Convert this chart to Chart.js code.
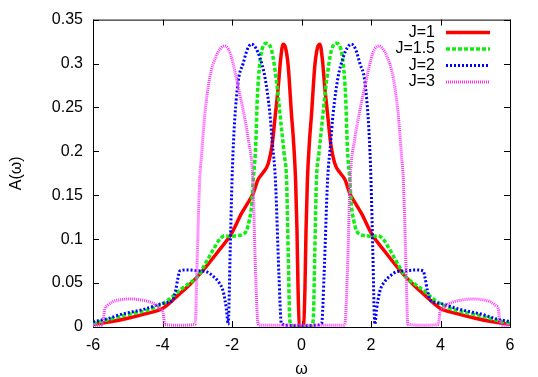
<!DOCTYPE html>
<html>
<head>
<meta charset="utf-8">
<script src="https://cdn.jsdelivr.net/npm/chart.js@4.4.1/dist/chart.umd.min.js"></script>
<style>
  html, body { margin: 0; padding: 0; background: #fff; }
  canvas { display: block; }
</style>
</head>
<body>
<canvas id="myChart" width="538" height="377"></canvas>
<script>
// series labels and ticks
const seriesLabels = ['J=1', 'J=1.5', 'J=2', 'J=3'];
const xTicks = [-6, -4, -2, 0, 2, 4, 6];
const yTicks = [0, 0.05, 0.1, 0.15, 0.2, 0.25, 0.3, 0.35];
const yTickLabels = ['0', '0.05', '0.1', '0.15', '0.2', '0.25', '0.3', '0.35'];

// J=1
const j1Omega = [-6.00, -5.50, -5.00, -4.50, -4.00, -3.50, -3.22, -3.00, -2.74, -2.40, -2.02, -1.73, -1.55, -1.39, -1.25, -1.10, -0.96, -0.84, -0.77, -0.67, -0.60, -0.53, -0.46, -0.38, -0.29, -0.23, -0.17, -0.13, -0.10, -0.06,
  0.00, 0.06, 0.10, 0.13, 0.17, 0.23, 0.29, 0.38, 0.46, 0.53, 0.60, 0.67, 0.77, 0.84, 0.96, 1.10, 1.25, 1.39, 1.55, 1.73, 2.02, 2.40, 2.74, 3.00, 3.22, 3.50, 4.00, 4.50, 5.00, 5.50, 6.00];
const j1A = [0.003, 0.006, 0.010, 0.015, 0.021, 0.038, 0.048, 0.057, 0.069, 0.086, 0.106, 0.129, 0.141, 0.152, 0.168, 0.176, 0.186, 0.209, 0.235, 0.273, 0.305, 0.322, 0.318, 0.296, 0.243, 0.212, 0.167, 0.110, 0.045, 0.001,
  0.000, 0.001, 0.045, 0.110, 0.167, 0.212, 0.243, 0.296, 0.318, 0.322, 0.305, 0.273, 0.235, 0.209, 0.186, 0.176, 0.168, 0.152, 0.141, 0.129, 0.106, 0.086, 0.069, 0.057, 0.048, 0.038, 0.021, 0.015, 0.010, 0.006, 0.003];

// J=1.5
const j15Omega = [-6.00, -5.50, -5.14, -4.46, -4.18, -3.89, -3.50, -3.22, -3.00, -2.74, -2.54, -2.35, -2.20, -2.05, -1.85, -1.70, -1.58, -1.50, -1.44, -1.39, -1.32, -1.27, -1.20, -1.12, -1.01, -0.86, -0.72, -0.57, -0.50, -0.43, -0.38, -0.34, -0.30, -0.20,
  0.00, 0.20, 0.30, 0.34, 0.38, 0.43, 0.50, 0.57, 0.72, 0.86, 1.01, 1.12, 1.20, 1.27, 1.32, 1.39, 1.44, 1.50, 1.58, 1.70, 1.85, 2.05, 2.20, 2.35, 2.54, 2.74, 3.00, 3.22, 3.50, 3.89, 4.18, 4.46, 5.14, 5.50, 6.00];
const j15A = [0.004, 0.009, 0.013, 0.019, 0.023, 0.029, 0.042, 0.050, 0.057, 0.074, 0.088, 0.100, 0.104, 0.103, 0.104, 0.105, 0.110, 0.122, 0.137, 0.167, 0.205, 0.262, 0.300, 0.318, 0.323, 0.315, 0.280, 0.224, 0.197, 0.167, 0.080, 0.010, 0.002, 0.001,
  0.000, 0.001, 0.002, 0.010, 0.080, 0.167, 0.197, 0.224, 0.280, 0.315, 0.323, 0.318, 0.300, 0.262, 0.205, 0.167, 0.137, 0.122, 0.110, 0.105, 0.104, 0.103, 0.104, 0.100, 0.088, 0.074, 0.057, 0.050, 0.042, 0.029, 0.023, 0.019, 0.013, 0.009, 0.004];

// J=2
const j2Omega = [-6.00, -5.53, -5.23, -4.66, -4.46, -4.08, -3.85, -3.70, -3.62, -3.56, -3.50, -3.30, -3.00, -2.74, -2.55, -2.40, -2.25, -2.16, -2.11, -2.05, -2.00, -1.94, -1.82, -1.68, -1.56, -1.44, -1.32, -1.20, -1.05, -0.91, -0.84, -0.75, -0.65, -0.58, -0.40,
  0.00, 0.40, 0.58, 0.65, 0.75, 0.84, 0.91, 1.05, 1.20, 1.32, 1.44, 1.56, 1.68, 1.82, 1.94, 2.00, 2.05, 2.11, 2.16, 2.25, 2.40, 2.55, 2.74, 3.00, 3.30, 3.50, 3.56, 3.62, 3.70, 3.85, 4.08, 4.46, 4.66, 5.23, 5.53, 6.00];
const j2A = [0.006, 0.010, 0.014, 0.019, 0.021, 0.026, 0.028, 0.031, 0.042, 0.055, 0.064, 0.065, 0.064, 0.063, 0.058, 0.052, 0.040, 0.020, 0.003, 0.090, 0.167, 0.224, 0.280, 0.300, 0.316, 0.322, 0.318, 0.307, 0.284, 0.243, 0.210, 0.167, 0.060, 0.004, 0.002,
  0.001, 0.002, 0.004, 0.060, 0.167, 0.210, 0.243, 0.284, 0.307, 0.318, 0.322, 0.316, 0.300, 0.280, 0.224, 0.167, 0.090, 0.003, 0.020, 0.040, 0.052, 0.058, 0.063, 0.064, 0.065, 0.064, 0.055, 0.042, 0.031, 0.028, 0.026, 0.021, 0.019, 0.014, 0.010, 0.006];

// J=3
const j3Omega = [-6.00, -5.78, -5.71, -5.66, -5.60, -5.42, -5.20, -4.94, -4.66, -4.40, -4.18, -4.08, -3.98, -3.94, -3.50, -3.06, -3.00, -2.93, -2.88, -2.78, -2.64, -2.45, -2.35, -2.23, -2.10, -2.00, -1.82, -1.68, -1.53, -1.40, -1.32, -1.25, -1.20, -1.00, -0.60,
  0.00, 0.60, 1.00, 1.20, 1.25, 1.32, 1.40, 1.53, 1.68, 1.82, 2.00, 2.10, 2.23, 2.35, 2.45, 2.64, 2.78, 2.88, 2.93, 3.00, 3.06, 3.50, 3.94, 3.98, 4.08, 4.18, 4.40, 4.66, 4.94, 5.20, 5.42, 5.60, 5.66, 5.71, 5.78, 6.00];
const j3A = [0.002, 0.002, 0.006, 0.021, 0.024, 0.029, 0.031, 0.032, 0.031, 0.029, 0.025, 0.021, 0.016, 0.003, 0.002, 0.003, 0.080, 0.167, 0.194, 0.243, 0.284, 0.309, 0.316, 0.320, 0.316, 0.305, 0.273, 0.247, 0.213, 0.167, 0.060, 0.004, 0.002, 0.002, 0.002,
  0.002, 0.002, 0.002, 0.002, 0.004, 0.060, 0.167, 0.213, 0.247, 0.273, 0.305, 0.316, 0.320, 0.316, 0.309, 0.284, 0.243, 0.194, 0.167, 0.080, 0.003, 0.002, 0.003, 0.016, 0.021, 0.025, 0.029, 0.031, 0.032, 0.031, 0.029, 0.024, 0.021, 0.006, 0.002, 0.002];

const FONT = '"Liberation Sans", Arial, Helvetica, sans-serif';

function toPoints(xs, ys) {
  return xs.map((x, i) => ({ x: x, y: ys[i] }));
}

// frame with inward ticks on all four sides, gnuplot style
const framePlugin = {
  id: 'frame',
  beforeDatasetsDraw(chart) {
    const { ctx, chartArea: a, scales: { x, y } } = chart;
    ctx.save();
    ctx.strokeStyle = '#000';
    ctx.lineWidth = 1;
    ctx.strokeRect(a.left + 0.5, a.top + 0.5, a.right - a.left, a.bottom - a.top);
    ctx.beginPath();
    xTicks.forEach(v => {
      const px = Math.round(x.getPixelForValue(v)) + 0.5;
      ctx.moveTo(px, a.bottom); ctx.lineTo(px, a.bottom - 6);
      ctx.moveTo(px, a.top); ctx.lineTo(px, a.top + 6);
    });
    yTicks.forEach(v => {
      const py = Math.round(y.getPixelForValue(v)) + 0.5;
      ctx.moveTo(a.left, py); ctx.lineTo(a.left + 6, py);
      ctx.moveTo(a.right, py); ctx.lineTo(a.right - 6, py);
    });
    ctx.stroke();
    ctx.restore();
  },
  afterDatasetsDraw(chart) {
    // key: text right aligned, then a line sample
    const { ctx } = chart;
    ctx.save();
    ctx.font = '16px ' + FONT;
    ctx.textAlign = 'right';
    ctx.textBaseline = 'middle';
    chart.data.datasets.forEach((ds, i) => {
      const yy = 32.5 + i * 16.5;
      ctx.fillStyle = '#000';
      ctx.fillText(ds.label, 435, yy);
      ctx.strokeStyle = ds.borderColor;
      ctx.lineWidth = ds.borderWidth;
      ctx.setLineDash(ds.borderDash || []);
      ctx.beginPath();
      ctx.moveTo(446, yy);
      ctx.lineTo(490, yy);
      ctx.stroke();
    });
    ctx.restore();
  }
};

const ctx = document.getElementById('myChart');
const myChart = new Chart(ctx, {
  type: 'line',
  data: {
    datasets: [{
      label: seriesLabels[0],
      data: toPoints(j1Omega, j1A),
      borderColor: '#ff0000',
      borderWidth: 3.5,
      order: 4
    }, {
      label: seriesLabels[1],
      data: toPoints(j15Omega, j15A),
      borderColor: '#11ee11',
      borderWidth: 3.5,
      borderDash: [4, 2],
      order: 3
    }, {
      label: seriesLabels[2],
      data: toPoints(j2Omega, j2A),
      borderColor: '#0000ff',
      borderWidth: 3,
      borderDash: [2, 2],
      order: 2
    }, {
      label: seriesLabels[3],
      data: toPoints(j3Omega, j3A),
      borderColor: '#ff33ff',
      borderWidth: 3,
      borderDash: [1, 1],
      order: 1
    }]
  },
  options: {
    responsive: false,
    animation: false,
    devicePixelRatio: 1,
    cubicInterpolationMode: 'monotone',
    elements: {
      point: { radius: 0 },
      line: { backgroundColor: 'transparent', fill: false }
    },
    layout: { padding: { top: 19, right: 28, left: 0, bottom: 0 } },
    plugins: {
      legend: { display: false },
      tooltip: { enabled: false }
    },
    scales: {
      x: {
        type: 'linear',
        min: -6,
        max: 6,
        afterBuildTicks: s => { s.ticks = xTicks.map(v => ({ value: v })); },
        afterFit: s => { s.height = 50; },
        grid: { display: false, drawTicks: false },
        border: { display: false },
        ticks: { color: '#000', padding: 9, font: { family: FONT, size: 16 } },
        title: {
          display: true,
          text: 'ω',
          color: '#000',
          font: { family: FONT, size: 16 },
          padding: { top: 0, bottom: -2 }
        }
      },
      y: {
        min: 0,
        max: 0.35,
        afterBuildTicks: s => { s.ticks = yTicks.map(v => ({ value: v })); },
        afterFit: s => { s.width = 93; },
        grid: { display: false, drawTicks: false },
        border: { display: false },
        ticks: {
          color: '#000',
          padding: 10,
          font: { family: FONT, size: 16 },
          callback: v => yTickLabels[yTicks.indexOf(v)]
        },
        title: {
          display: true,
          text: 'A(ω)',
          color: '#000',
          font: { family: FONT, size: 16 },
          padding: { top: 7, bottom: 0 }
        }
      }
    }
  },
  plugins: [framePlugin]
});
</script>
</body>
</html>
